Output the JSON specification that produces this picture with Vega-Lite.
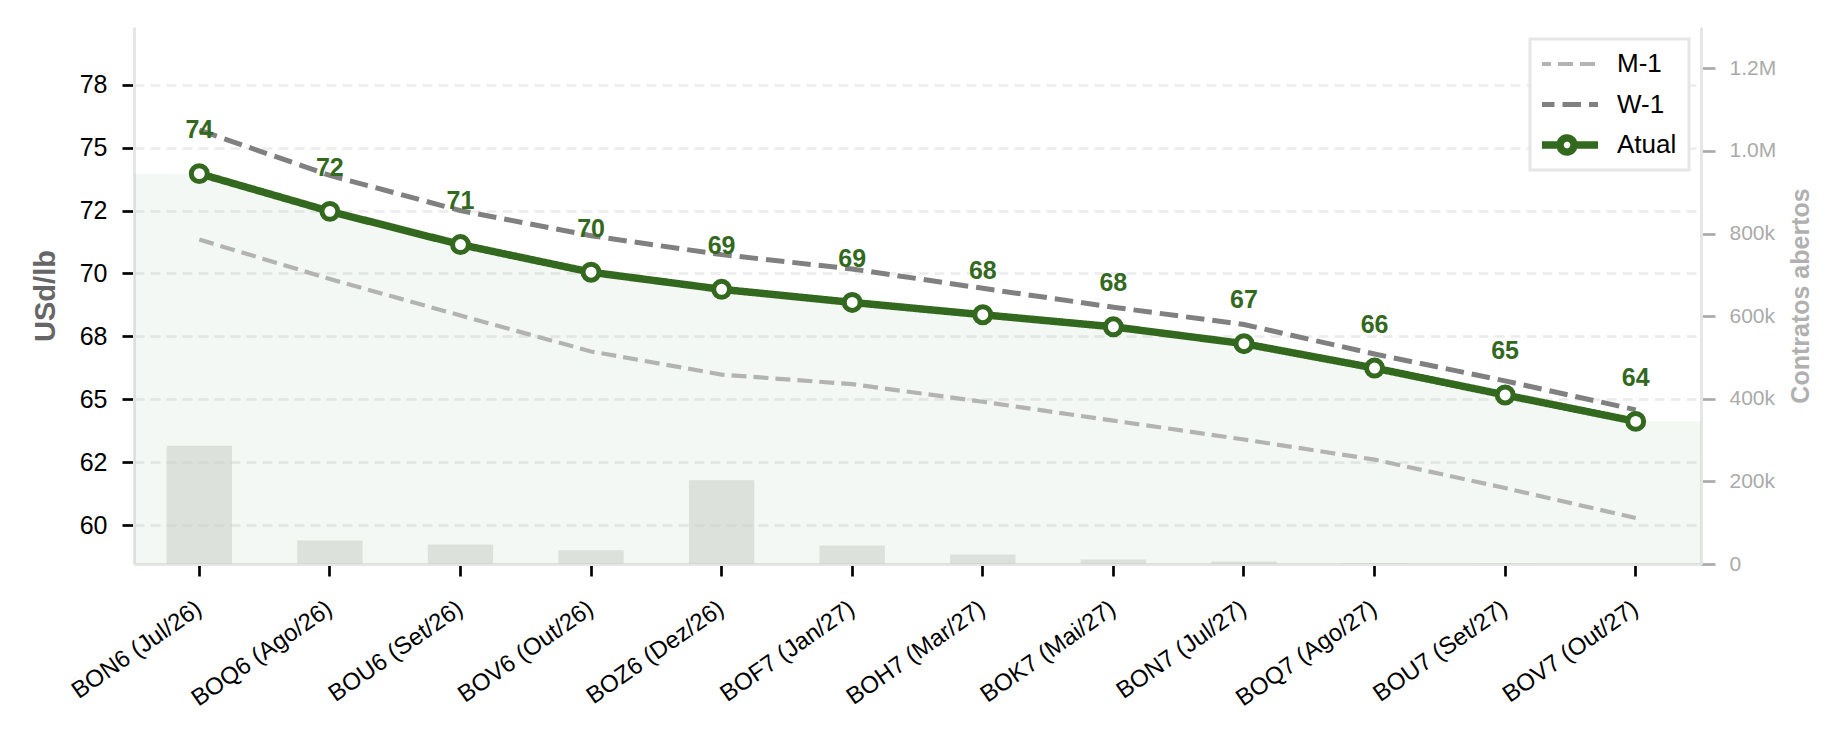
{
  "$schema": "https://vega.github.io/schema/vega-lite/v6.json",
  "width": 1567,
  "height": 537,
  "padding": {"left": 31, "top": 27, "right": 5, "bottom": 5},
  "background": "white",
  "config": {
    "font": "Liberation Sans",
    "view": {"stroke": null},
    "axis": {"domainColor": "#e6e6e6", "domainWidth": 3, "tickWidth": 2.7, "tickSize": 12, "labelFont": "Liberation Sans", "titleFont": "Liberation Sans"},
    "legend": {"strokeWidth": 3}
  },
  "data": {
    "values": [
      {"c": "BON6 (Jul/26)", "M-1": 71.35, "W-1": 75.70, "Atual": 73.97, "oi": 286000},
      {"c": "BOQ6 (Ago/26)", "M-1": 69.78, "W-1": 73.90, "Atual": 72.47, "oi": 57000},
      {"c": "BOU6 (Set/26)", "M-1": 68.33, "W-1": 72.50, "Atual": 71.15, "oi": 47000},
      {"c": "BOV6 (Out/26)", "M-1": 66.90, "W-1": 71.50, "Atual": 70.05, "oi": 33000},
      {"c": "BOZ6 (Dez/26)", "M-1": 65.98, "W-1": 70.75, "Atual": 69.37, "oi": 203000},
      {"c": "BOF7 (Jan/27)", "M-1": 65.60, "W-1": 70.18, "Atual": 68.85, "oi": 45000},
      {"c": "BOH7 (Mar/27)", "M-1": 64.90, "W-1": 69.41, "Atual": 68.36, "oi": 23000},
      {"c": "BOK7 (Mai/27)", "M-1": 64.15, "W-1": 68.66, "Atual": 67.88, "oi": 11000},
      {"c": "BON7 (Jul/27)", "M-1": 63.40, "W-1": 67.97, "Atual": 67.21, "oi": 6000},
      {"c": "BOQ7 (Ago/27)", "M-1": 62.60, "W-1": 66.80, "Atual": 66.24, "oi": 1000},
      {"c": "BOU7 (Set/27)", "M-1": 61.47, "W-1": 65.73, "Atual": 65.17, "oi": 500},
      {"c": "BOV7 (Out/27)", "M-1": 60.28, "W-1": 64.58, "Atual": 64.12, "oi": 200}
    ]
  },
  "layer": [
    {
      "layer": [
        {
          "mark": {"type": "area", "color": "#2e7d32", "opacity": 0.055, "clip": true},
          "encoding": {
            "x": {
              "field": "c", "type": "nominal", "sort": null,
              "scale": {"type": "band", "paddingInner": 0, "paddingOuter": 0,
                "domain": ["BON6 (Jul/26)", "BOQ6 (Ago/26)", "BOU6 (Set/26)", "BOV6 (Out/26)", "BOZ6 (Dez/26)", "BOF7 (Jan/27)", "BOH7 (Mar/27)", "BOK7 (Mai/27)", "BON7 (Jul/27)", "BOQ7 (Ago/27)", "BOU7 (Set/27)", "BOV7 (Out/27)"]},
              "axis": {"title": null, "labelAngle": -35, "labelAlign": "right", "labelBaseline": "middle", "labelFontSize": 24, "labelColor": "black", "tickColor": "black", "labelPadding": 30, "labelLimit": 400, "grid": false}
            },
            "y": {
              "field": "Atual", "type": "quantitative",
              "scale": {"domain": [58.45, 79.8], "nice": false, "zero": false},
              "axis": {
                "title": "USd/lb", "values": [60, 62.5, 65, 67.5, 70, 72.5, 75, 77.5],
                "labelExpr": "datum.value % 5 == 0 ? format(datum.value, 'd') : format(2 * round(datum.value / 2), 'd')",
                "labelFontSize": 25, "labelColor": "black", "tickColor": "black", "labelPadding": 15,
                "titleFontSize": 29, "titleFontWeight": "bold", "titleColor": "#666666", "titlePadding": 19,
                "grid": true, "gridColor": "#ececec", "gridDash": [10, 6], "gridWidth": 2.5
              }
            }
          }
        },
        {
          "transform": [{"filter": "datum.c == 'BON6 (Jul/26)'"}],
          "mark": {"type": "bar", "color": "#2e7d32", "opacity": 0.055, "clip": true},
          "encoding": {
            "x": {"field": "c", "type": "nominal", "sort": null},
            "xOffset": {"datum": "L", "scale": {"domain": ["L", "R"], "paddingInner": 0, "paddingOuter": 0}},
            "y": {"field": "Atual", "type": "quantitative"}
          }
        },
        {
          "transform": [{"filter": "datum.c == 'BOV7 (Out/27)'"}],
          "mark": {"type": "bar", "color": "#2e7d32", "opacity": 0.055, "clip": true},
          "encoding": {
            "x": {"field": "c", "type": "nominal", "sort": null},
            "xOffset": {"datum": "R"},
            "y": {"field": "Atual", "type": "quantitative"}
          }
        },
        {
          "transform": [{"fold": ["M-1", "W-1", "Atual"], "as": ["serie", "preco"]}],
          "mark": {"type": "line"},
          "encoding": {
            "x": {"field": "c", "type": "nominal", "sort": null},
            "y": {"field": "preco", "type": "quantitative"},
            "color": {
              "field": "serie", "type": "nominal",
              "scale": {"domain": ["M-1", "W-1", "Atual"], "range": ["#b3b3b3", "#808080", "#33691e"]},
              "legend": {
                "title": null, "orient": "top-right", "offset": 12, "padding": 12,
                "fillColor": "white", "strokeColor": "#e6e6e6", "cornerRadius": 0,
                "labelFontSize": 26, "labelColor": "black", "labelFont": "Liberation Sans",
                "symbolSize": 400, "symbolOffset": 11, "labelOffset": 36, "rowPadding": 14.5, "clipHeight": 26,
                "symbolOpacity": 1, "symbolFillColor": "white"
              }
            },
            "strokeDash": {
              "field": "serie", "type": "nominal",
              "scale": {"domain": ["M-1", "W-1", "Atual"], "range": [[15, 7], [18.5, 8], [1, 0]]}
            },
            "strokeWidth": {
              "field": "serie", "type": "nominal",
              "scale": {"type": "ordinal", "domain": ["M-1", "W-1", "Atual"], "range": [4.2, 5, 7.5]}
            }
          }
        },
        {
          "transform": [{"fold": ["M-1", "W-1", "Atual"], "as": ["serie", "preco"]}],
          "mark": {"type": "point", "opacity": 0},
          "encoding": {
            "x": {"field": "c", "type": "nominal", "sort": null},
            "y": {"field": "preco", "type": "quantitative"},
            "shape": {
              "field": "serie", "type": "nominal",
              "scale": {"domain": ["M-1", "W-1", "Atual"], "range": ["M-3.1,0H3.1", "M-3.1,0H3.1", "M-3.1,0H-0.7M0.7,0H3.1M0.7,0A0.7,0.7,0,1,1,-0.7,0A0.7,0.7,0,1,1,0.7,0"]}
            }
          }
        },
        {
          "mark": {"type": "point", "shape": "circle", "filled": true, "fill": "white", "stroke": "#33691e", "strokeWidth": 5, "size": 254, "opacity": 1},
          "encoding": {
            "x": {"field": "c", "type": "nominal", "sort": null},
            "y": {"field": "Atual", "type": "quantitative"}
          }
        },
        {
          "mark": {"type": "text", "fontSize": 25, "fontWeight": "bold", "color": "#33691e", "dy": -35.5, "baseline": "alphabetic", "align": "center"},
          "encoding": {
            "x": {"field": "c", "type": "nominal", "sort": null},
            "y": {"field": "Atual", "type": "quantitative"},
            "text": {"field": "Atual", "type": "quantitative", "format": ".0f"}
          }
        }
      ]
    },
    {
      "mark": {"type": "bar", "width": {"band": 0.5}, "color": "#c9cec7", "opacity": 0.55},
      "encoding": {
        "x": {"field": "c", "type": "nominal", "sort": null},
        "y": {
          "field": "oi", "type": "quantitative",
          "scale": {"domain": [0, 1300000], "nice": false},
          "axis": {
            "orient": "right", "title": "Contratos abertos",
            "values": [0, 200000, 400000, 600000, 800000, 1000000, 1200000],
            "labelExpr": "datum.value == 0 ? '0' : datum.value >= 1000000 ? format(datum.value / 1000000, '.1f') + 'M' : format(datum.value / 1000, 'd') + 'k'",
            "labelColor": "#aaaaaa", "labelFontSize": 21, "tickColor": "#aaaaaa", "tickSize": 14, "labelPadding": 14,
            "titleColor": "#b0b0b0", "titleFontSize": 25, "titleFontWeight": "bold", "titlePadding": 13, "titleAngle": 270, "titleBaseline": "top",
            "grid": false
          }
        }
      }
    }
  ],
  "resolve": {"scale": {"y": "independent"}}
}
